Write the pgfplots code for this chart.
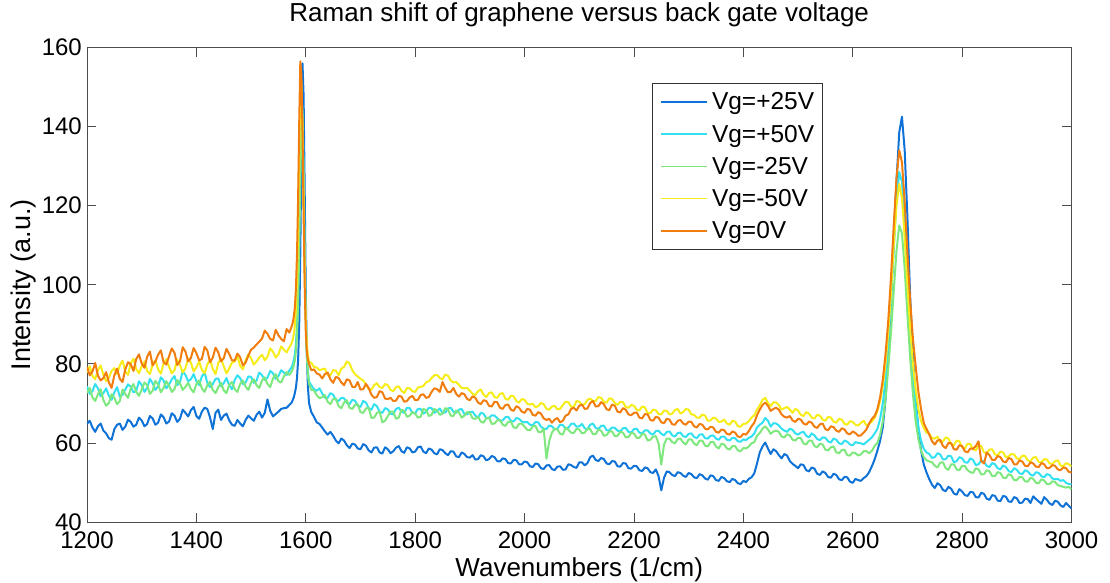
\documentclass[border=0pt]{standalone}
\usepackage{fontspec}
\setmainfont{Liberation Sans}
\usepackage{pgfplots}
\usepackage{pgfplotstable}
\pgfplotsset{compat=1.18}

\definecolor{spBlue}{HTML}{0F72D6}
\definecolor{spCyan}{HTML}{33E0F0}
\definecolor{spGreen}{HTML}{7EE87E}
\definecolor{spYellow}{HTML}{F5EC1A}
\definecolor{spOrange}{HTML}{F07D0E}

% Raman spectra: wavenumber, then intensity for Vg = +25, +50, -25, -50, 0 V
\pgfplotstableread{
w     p25   p50   m25   m50   z0
1200  64.8  74.3  72.6  77.8  79.2
1205  65.6  72.4  73.9  79.4  77.1
1210  63.9  73.1  71.5  76.9  78.1
1215  62.8  74.9  70.6  76.1  80.2
1220  64.2  73.8  72.3  78.4  77.0
1225  64.9  71.8  73.6  79.6  75.8
1230  63.1  72.6  70.8  77.2  76.4
1235  62.4  73.8  69.4  75.6  77.9
1240  61.2  71.9  70.1  76.5  75.3
1245  60.8  70.9  72.3  78.2  73.9
1250  63.5  72.8  71.4  78.9  77.1
1255  64.6  74.1  69.8  77.4  78.8
1260  64.9  71.7  70.6  79.6  76.2
1265  63.3  72.2  73.5  80.8  75.4
1270  64.1  73.5  72.4  78.1  78.6
1275  65.9  74.8  71.4  77.2  80.4
1280  65.3  74.2  73.8  80.2  79.9
1285  64.1  72.8  74.9  81.3  78.2
1290  64.6  73.1  72.9  78.7  81.2
1295  66.4  75.6  71.9  77.6  82.4
1300  65.7  74.6  73.5  79.4  80.1
1305  64.2  72.9  75.3  80.6  79.0
1310  64.8  73.9  74.6  78.2  81.8
1315  66.8  76.2  72.4  77.4  83.1
1320  66.2  75.1  73.2  79.8  79.6
1325  64.6  73.4  75.7  80.9  80.6
1330  65.1  74.3  74.8  78.6  82.3
1335  67.2  76.6  72.8  77.5  83.4
1340  66.5  75.8  73.9  80.1  80.4
1345  64.9  73.8  75.6  81.2  79.8
1350  65.4  74.7  74.5  79.3  81.9
1355  67.5  76.1  72.9  77.6  83.9
1360  66.9  76.9  73.6  78.4  82.8
1365  65.3  74.6  75.9  81.1  79.7
1370  66.1  75.4  75.1  79.7  80.6
1375  68.4  78.1  73.4  77.8  84.2
1380  67.6  77.2  74.2  78.9  83.1
1385  66.7  75.6  75.2  81.4  80.6
1390  68.3  76.1  73.6  80.3  81.5
1395  69.1  77.4  72.8  78.1  84.0
1400  66.8  75.6  74.9  79.1  82.7
1405  66.1  74.6  75.8  80.6  80.9
1410  67.9  76.8  73.8  78.5  81.2
1415  68.9  77.8  72.9  77.6  84.3
1420  68.6  75.2  74.6  79.8  83.4
1425  66.4  74.1  75.5  81.1  80.4
1430  63.5  74.9  73.4  78.7  81.6
1435  67.6  76.2  72.6  77.4  84.1
1440  68.4  76.3  74.1  80.2  82.9
1445  65.8  74.3  75.2  81.3  80.6
1450  66.9  75.1  73.3  79.4  81.4
1455  67.4  76.4  72.6  77.6  83.8
1460  65.7  74.6  74.7  78.8  82.5
1465  64.6  73.6  75.4  80.3  80.9
1470  64.3  75.9  73.6  80.6  80.8
1475  65.8  77.1  72.9  81.9  82.6
1480  64.9  76.4  74.9  79.5  81.7
1485  64.2  74.9  75.8  78.6  79.6
1490  65.8  75.3  74.2  80.9  80.3
1495  66.9  76.8  73.4  82.4  82.1
1500  66.2  76.7  75.3  81.4  83.6
1505  65.6  75.2  76.1  79.8  84.1
1510  67.1  75.8  74.6  80.6  84.9
1515  67.9  77.8  73.9  81.6  85.6
1520  66.4  77.1  75.8  82.3  86.4
1525  67.6  75.9  76.6  80.9  88.4
1530  71.0  76.5  74.9  81.8  87.6
1535  68.1  78.2  74.1  83.9  86.3
1540  66.7  77.6  76.3  83.1  85.9
1545  67.3  76.2  77.4  81.6  88.6
1550  67.9  76.9  75.6  82.4  87.2
1555  68.6  78.4  75.3  84.4  86.3
1560  68.8  77.8  76.8  83.6  85.7
1565  68.9  77.2  77.9  82.9  88.8
1570  69.6  78.3  77.2  84.2  87.9
1574  70.2  79.1  78.0  85.1  89.4
1576  70.8  79.8  78.6  86.0  90.3
1578  71.5  80.9  79.5  87.4  91.8
1580  72.6  82.4  80.9  89.6  94.2
1582  74.0  85.0  83.2  93.5  99.0
1584  76.5  90.0  87.5  101   108
1586  81.0  99.0  95.0  114   122
1588  90.0  115   109   133   141
1590  108   134   126   148   156.5
1592  135   147   140   151   153
1594  156   144   142   141   139
1596  148   128   127   122   118
1598  124   107   106   103   100
1600  98    92    91    91    88
1602  82    83    82    85    83
1604  74    78    77    82    81
1606  70    75.5  75    80.5  80
1610  67.8  74.6  73.4  80.3  78.4
1615  66.6  73.6  73.3  79.2  78.6
1620  65.2  73.2  72.1  79.1  77.6
1625  64.8  73.8  71.3  78.4  77.3
1630  63.9  72.5  71.6  78.6  76.3
1635  62.9  71.4  72.1  78.8  77.4
1640  62.1  71.4  70.4  77.2  77.8
1645  62.8  72.6  69.8  77.1  76.1
1650  61.8  72.2  71.1  78.4  75.2
1655  60.6  70.9  71.2  78.3  76.7
1660  59.9  70.6  69.3  77.1  76.4
1665  61.1  71.4  68.8  78.8  75.3
1670  60.6  71.3  70.2  79.2  74.6
1675  59.4  70.1  70.8  80.6  76.1
1680  58.7  69.8  68.9  80.1  75.8
1685  59.8  70.9  68.6  78.4  74.2
1690  59.6  70.7  69.6  77.4  74.1
1695  58.6  69.4  69.8  76.8  75.4
1700  58.4  69.1  67.8  76.2  73.5
1705  59.7  70.6  67.6  75.8  73.6
1710  59.3  70.2  68.7  74.8  74.9
1715  58.1  68.8  68.9  73.6  73.9
1720  57.6  68.4  66.3  73.5  72.2
1725  58.8  69.8  66.4  74.6  71.4
1730  58.9  69.3  67.6  75.1  71.6
1735  57.6  67.9  67.9  74.1  73.1
1740  57.3  67.6  65.2  73.9  72.8
1745  58.9  68.8  65.6  74.9  71.2
1750  58.4  68.5  66.8  74.6  71.1
1755  57.4  67.4  67.9  73.4  71.4
1760  57.9  67.2  67.9  73.1  70.6
1765  58.8  68.6  66.1  74.1  70.7
1770  59.2  68.9  66.4  74.3  71.9
1775  57.9  67.9  68.4  73.2  71.7
1780  57.5  67.6  68.1  72.6  70.4
1785  58.9  68.9  66.6  73.9  70.6
1790  58.6  68.8  66.9  73.8  71.5
1795  57.6  67.6  67.8  73.1  71.9
1800  57.8  67.5  67.4  72.9  70.8
1805  58.9  68.6  66.4  74.0  70.9
1810  59.1  68.6  66.6  74.2  72.1
1815  57.8  67.4  68.6  74.4  72.3
1820  57.4  67.9  68.3  75.3  71.4
1825  58.6  68.9  66.8  75.6  71.6
1830  58.3  68.8  67.1  76.4  72.9
1835  57.4  67.6  68.6  77.1  73.8
1840  57.1  68.1  68.2  77.2  73.6
1845  58.4  68.7  67.1  76.4  72.9
1850  58.2  67.6  67.4  76.1  75.4
1855  57.4  67.7  68.8  77.3  73.9
1860  56.9  68.7  68.5  77.0  72.8
1865  57.9  68.9  66.9  75.8  72.9
1870  57.8  67.9  66.8  75.3  73.9
1875  56.6  67.6  68.2  75.4  72.4
1880  56.4  68.4  67.7  74.7  71.7
1885  57.6  68.6  66.4  73.9  72.6
1890  57.2  67.3  66.9  73.8  72.3
1895  56.4  67.2  67.8  73.9  71.1
1900  56.3  67.8  67.6  73.2  70.8
1905  56.9  67.9  66.2  72.4  71.8
1910  55.8  66.9  66.1  72.1  71.4
1915  55.9  66.4  66.6  73.1  70.2
1920  56.9  67.6  65.4  73.5  69.8
1925  56.6  67.4  65.1  72.2  70.8
1930  55.6  66.2  66.3  71.6  70.6
1935  55.9  66.3  66.4  72.6  69.4
1940  56.7  67.0  64.8  72.8  69.2
1945  56.4  66.9  64.9  71.6  70.4
1950  55.4  66.3  65.7  71.4  70.3
1955  55.3  65.6  65.8  72.4  68.9
1960  56.1  65.7  64.6  72.6  68.6
1965  55.9  66.5  64.3  71.2  69.6
1970  54.9  66.6  65.3  70.9  69.7
1975  54.8  65.6  65.4  71.9  68.4
1980  55.7  65.4  63.9  71.8  68.1
1985  55.6  66.3  63.8  70.6  69.3
1990  54.6  66.1  64.8  70.2  68.9
1995  54.6  65.4  64.9  71.1  67.9
2000  55.3  65.2  64.1  70.9  67.6
2005  55.1  65.3  63.3  69.9  68.6
2010  54.1  64.6  63.2  69.7  68.4
2015  53.9  64.5  64.2  69.9  67.1
2020  54.8  65.3  64.3  69.0  66.9
2025  54.6  65.2  62.8  69.3  67.8
2030  53.6  64.1  62.7  70.1  67.4
2035  53.4  63.6  63.6  69.8  66.2
2040  54.3  63.5  56.0  68.6  65.8
2045  54.4  64.4  60.4  68.4  66.1
2050  53.4  64.2  62.6  69.2  65.1
2055  53.1  63.4  63.6  69.4  65.9
2060  54.0  63.6  63.4  68.5  66.3
2065  54.1  64.6  62.3  68.6  65.2
2070  53.2  64.5  62.1  69.6  65.6
2075  53.3  63.6  63.9  70.4  66.9
2080  54.6  63.8  63.3  70.3  67.2
2085  54.4  64.8  62.6  69.2  68.6
2090  53.9  64.9  62.5  69.1  68.9
2095  53.7  64.1  63.6  70.6  68.2
2100  55.1  64.2  63.4  70.4  69.4
2105  55.1  64.8  62.4  69.6  69.7
2110  54.3  63.7  62.6  69.8  68.6
2115  54.9  63.4  63.6  70.9  68.7
2120  56.4  64.6  63.5  71.2  70.1
2125  56.8  64.9  62.2  70.6  70.6
2130  55.7  63.8  62.2  70.6  69.2
2135  55.4  63.5  63.4  71.6  69.3
2140  56.2  64.3  63.1  71.4  70.3
2145  55.9  64.4  61.8  70.4  69.8
2150  54.8  63.2  62.0  70.2  68.5
2155  54.6  63.2  62.9  71.3  68.3
2160  55.4  63.9  62.9  71.1  69.7
2165  55.3  63.8  61.7  70.1  69.4
2170  54.1  63.1  61.8  69.6  67.9
2175  54.0  62.9  62.8  70.4  67.7
2180  54.9  63.7  62.6  70.3  68.8
2185  54.8  63.8  61.4  69.1  68.4
2190  53.6  62.8  61.5  68.9  67.2
2195  53.5  62.6  62.5  69.6  67.0
2200  54.2  63.5  62.4  69.4  67.6
2205  54.1  63.6  61.3  68.4  67.7
2210  53.1  62.6  61.3  68.2  66.4
2215  52.9  62.4  62.3  69.2  66.2
2220  53.8  63.2  62.1  69.0  67.3
2225  53.6  63.2  60.6  67.6  67.2
2230  52.6  62.4  60.8  67.5  65.8
2235  52.4  62.1  61.6  68.4  65.6
2240  53.3  63.0  61.7  68.3  66.6
2245  51.6  63.1  59.9  67.3  66.4
2250  48.0  62.3  54.5  67.2  65.2
2255  51.2  61.9  59.6  68.2  65.0
2260  52.8  62.8  61.1  68.1  66.1
2265  52.6  62.9  61.1  67.2  65.9
2270  51.9  61.9  60.2  67.4  64.7
2275  51.6  61.6  59.9  68.3  64.6
2280  52.6  62.5  61.0  68.6  65.6
2285  52.4  62.6  61.1  67.4  65.8
2290  51.7  61.7  60.1  67.8  64.9
2295  51.4  61.5  59.6  68.6  64.6
2300  52.4  62.3  60.9  68.4  65.4
2305  52.1  62.4  60.9  67.2  65.3
2310  51.3  61.5  59.8  67.1  64.2
2315  51.1  61.2  59.4  66.4  63.9
2320  52.1  62.1  60.6  66.4  64.8
2325  51.8  62.2  60.6  67.2  64.6
2330  51.0  61.2  59.3  66.9  63.6
2335  50.7  61.1  59.1  65.6  63.4
2340  51.8  61.8  60.2  65.7  64.1
2345  51.6  61.9  60.3  66.4  63.9
2350  50.6  61.1  59.1  66.2  62.8
2355  50.4  60.8  58.6  65.3  62.6
2360  51.4  61.6  59.8  65.4  63.4
2365  51.1  61.6  59.6  65.9  63.2
2370  50.3  60.8  58.6  64.9  62.3
2375  50.1  60.6  58.3  64.6  62.1
2380  50.9  61.3  59.2  65.6  62.9
2385  50.6  61.2  59.2  65.4  62.6
2390  49.8  60.4  58.1  64.2  61.6
2395  49.6  60.3  57.9  64.1  61.5
2400  50.4  60.9  58.7  64.8  62.3
2405  50.1  60.7  58.6  64.9  62.1
2410  50.9  61.3  59.1  65.5  63.0
2415  51.3  61.6  59.9  66.4  64.2
2420  52.3  62.4  60.2  67.0  65.1
2425  54.8  63.9  61.8  68.4  67.0
2430  57.6  64.6  62.5  69.5  68.4
2435  59.1  65.1  63.6  70.9  69.6
2440  60.1  66.3  64.2  71.4  70.2
2445  58.6  65.6  63.4  70.1  69.4
2450  57.2  64.1  62.3  69.3  68.1
2455  58.4  65.0  62.9  70.3  68.6
2460  57.9  64.9  63.1  70.2  68.9
2465  56.9  64.4  62.8  69.6  68.4
2470  56.1  63.6  61.6  68.4  67.2
2475  57.2  63.1  61.4  68.8  66.6
2480  56.8  62.8  62.2  69.1  66.4
2485  55.4  63.6  61.9  68.4  66.8
2490  54.7  63.3  60.8  67.6  65.7
2495  54.2  62.4  60.6  68.6  65.3
2500  53.6  62.1  61.3  68.2  66.1
2505  54.6  62.6  61.2  67.1  65.9
2510  54.4  62.8  59.9  66.8  64.9
2515  53.1  61.8  59.6  67.8  64.6
2520  52.8  61.4  60.6  67.4  65.4
2525  53.8  62.4  60.6  66.4  65.1
2530  53.5  61.9  59.2  66.2  64.1
2535  52.2  61.0  58.9  67.1  63.8
2540  51.9  60.7  59.8  66.9  64.7
2545  52.8  61.4  59.6  65.9  64.9
2550  52.4  61.3  58.3  65.6  63.5
2555  51.4  60.4  58.1  66.6  63.2
2560  51.2  60.1  58.9  66.4  64.2
2565  52.2  61.1  59.1  65.4  64.0
2570  51.9  60.8  57.6  65.1  63.1
2575  50.8  59.9  57.4  66.1  62.8
2580  50.6  59.7  58.2  65.9  63.7
2585  51.4  60.6  58.3  64.8  63.4
2590  51.3  60.3  56.9  64.6  62.4
2595  50.2  59.6  56.8  65.5  62.2
2600  49.9  59.4  57.6  65.3  62.9
2605  50.9  60.2  57.4  64.6  62.5
2610  50.6  60.0  56.8  64.4  61.8
2615  50.4  59.9  57.1  65.1  61.9
2620  51.1  59.6  57.9  65.6  62.6
2625  51.6  60.2  57.9  64.4  63.4
2630  52.6  60.8  57.4  64.8  64.9
2635  54.1  61.4  58.0  65.4  66.1
2640  55.8  62.4  59.2  66.3  66.8
2645  58.0  63.5  60.0  68.0  68.5
2650  60.5  66.0  62.0  70.5  71.5
2655  64.0  70.0  65.5  74.5  76.0
2660  71.0  76.0  71.0  80.0  82.5
2665  82.0  85.0  79.0  88.0  91.0
2670  96.0  96.0  88.0  98.0  102
2675  111   109   98.5  110   115
2680  126   121   108.5 120   127
2685  138.5 128.5 115   125.5 134
2690  142.5 126   113   122   131
2695  134   115   104   112   121
2700  117   101   92.5  100   108
2705  97.0  88.0  81.5  89.0  96.0
2710  82.0  77.5  72.5  80.0  86.5
2715  71.0  69.5  65.5  73.5  79.5
2720  63.5  64.0  61.0  68.5  73.0
2725  58.0  60.5  58.0  65.5  68.5
2730  54.5  58.5  56.4  63.8  65.0
2735  52.5  57.6  55.6  62.6  63.5
2740  50.8  57.2  55.3  62.3  62.1
2745  49.4  56.2  55.1  61.2  60.4
2750  48.6  56.4  54.2  61.1  59.6
2755  49.8  57.4  53.8  61.6  60.6
2760  49.3  57.1  55.0  60.2  60.8
2765  48.1  55.8  55.1  60.4  59.2
2770  47.8  55.9  53.6  61.4  58.7
2775  48.9  56.8  53.2  61.1  60.0
2780  48.4  56.6  54.6  59.7  59.9
2785  47.2  55.1  54.6  59.4  58.4
2790  46.9  55.4  53.3  60.6  58.3
2795  48.3  56.4  53.1  60.4  59.4
2800  47.7  56.1  54.2  58.9  59.2
2805  46.8  55.1  54.2  58.6  57.9
2810  46.6  55.0  53.1  59.8  57.6
2815  47.6  56.1  52.6  59.7  58.6
2820  47.5  55.7  52.4  58.4  58.5
2825  46.3  54.4  53.6  58.1  59.2
2830  46.2  54.6  53.3  59.3  60.4
2835  47.4  55.6  52.0  59.2  55.4
2840  47.1  55.2  52.1  57.6  54.8
2845  45.9  54.2  53.1  57.4  57.6
2850  45.6  53.9  52.8  58.3  56.9
2855  46.8  54.9  51.6  58.4  55.7
2860  46.6  54.6  51.6  57.1  55.7
2865  45.4  53.6  52.6  56.9  56.7
2870  45.3  53.3  52.4  57.8  56.4
2875  46.6  54.3  51.2  57.6  55.3
2880  46.4  53.9  51.1  56.4  55.1
2885  45.2  52.9  52.1  56.6  56.2
2890  45.1  52.6  51.8  57.2  55.9
2895  46.3  53.6  50.6  57.1  54.6
2900  46.0  53.2  50.6  56.1  54.6
2905  44.8  52.3  51.4  55.9  55.6
2910  44.9  52.1  51.3  56.8  55.3
2915  45.9  53.1  50.3  56.7  54.2
2920  45.8  52.8  50.2  55.6  54.1
2925  44.8  52.0  51.2  55.4  55.1
2930  46.5  51.7  50.9  56.3  54.8
2935  45.8  52.6  49.9  56.4  54.0
2940  45.2  52.4  49.8  55.2  53.9
2945  44.6  51.6  50.8  55.1  54.9
2950  46.3  51.3  50.5  55.9  54.6
2955  45.6  52.1  49.6  55.8  53.6
2960  44.7  51.9  49.6  54.8  53.7
2965  44.3  51.0  50.3  54.7  54.4
2970  45.4  50.8  50.1  55.4  54.2
2975  45.1  50.9  49.3  55.6  53.3
2980  44.2  50.4  49.1  54.3  53.1
2985  43.8  50.6  48.9  54.1  53.8
2990  44.8  49.9  48.7  54.9  53.6
2995  44.1  49.6  48.9  54.6  52.7
3000  43.4  49.5  48.3  54.1  52.5
}\ramandata

\begin{document}
\begin{tikzpicture}
\useasboundingbox (-87pt,-61pt) rectangle (1023pt,522pt);
\begin{axis}[
  scale only axis,
  width=984.5pt, height=474.5pt,
  xmin=1200, xmax=3000, ymin=40, ymax=160,
  xtick={1200,1400,...,3000},
  ytick={40,60,...,160},
  tick align=inside,
  major tick length=9.5pt,
  axis line style={black!70, line width=0.8pt},
  every tick/.style={black!70, line width=0.8pt},
  /pgf/number format/assume math mode=true,
  /pgf/number format/1000 sep={},
  ticklabel style={font=\fontsize{24}{28}\selectfont},
  xticklabel style={inner sep=0pt, anchor=north, yshift=-10pt},
  yticklabel style={inner sep=0pt, anchor=east, xshift=-5pt},
  title={Raman shift of graphene versus back gate voltage},
  title style={font=\fontsize{26}{30}\selectfont, at={(axis description cs:0.5,1)}, anchor=base, yshift=20pt},
  xlabel={Wavenumbers (1/cm)},
  xlabel style={font=\fontsize{26}{30}\selectfont, at={(axis description cs:0.5,0)}, anchor=base, yshift=-54pt},
  ylabel={Intensity (a.u.)},
  ylabel style={font=\fontsize{27}{30}\selectfont, at={(axis description cs:-0.0569,0.5)}, anchor=base},
  legend cell align=left,
  legend image code/.code={\draw[#1, line width=1.5pt] (0pt,0pt) -- (46pt,0pt);},
  legend style={
    at={(axis description cs:0.574,0.925)}, anchor=north west,
    draw=black!80, line width=0.8pt,
    font=\fontsize{24.5}{28}\selectfont,
    inner xsep=8pt, inner ysep=6.5pt,
    row sep=8.25pt,
    nodes={inner sep=0pt, text height=20pt, text depth=4pt},
    /tikz/every odd column/.append style={column sep=4pt},
  },
  every axis plot/.append style={line width=2pt, line join=round},
]
\addplot[spBlue]   table[x=w, y=p25] {\ramandata};
\addlegendentry{Vg=+25V\hspace{30pt}}
\addplot[spCyan]   table[x=w, y=p50] {\ramandata};
\addlegendentry{Vg=+50V}
\addplot[spGreen]  table[x=w, y=m25] {\ramandata};
\addlegendentry{Vg=-25V}
\addplot[spYellow] table[x=w, y=m50] {\ramandata};
\addlegendentry{Vg=-50V}
\addplot[spOrange] table[x=w, y=z0]  {\ramandata};
\addlegendentry{Vg=0V}
\end{axis}
\end{tikzpicture}
\end{document}
